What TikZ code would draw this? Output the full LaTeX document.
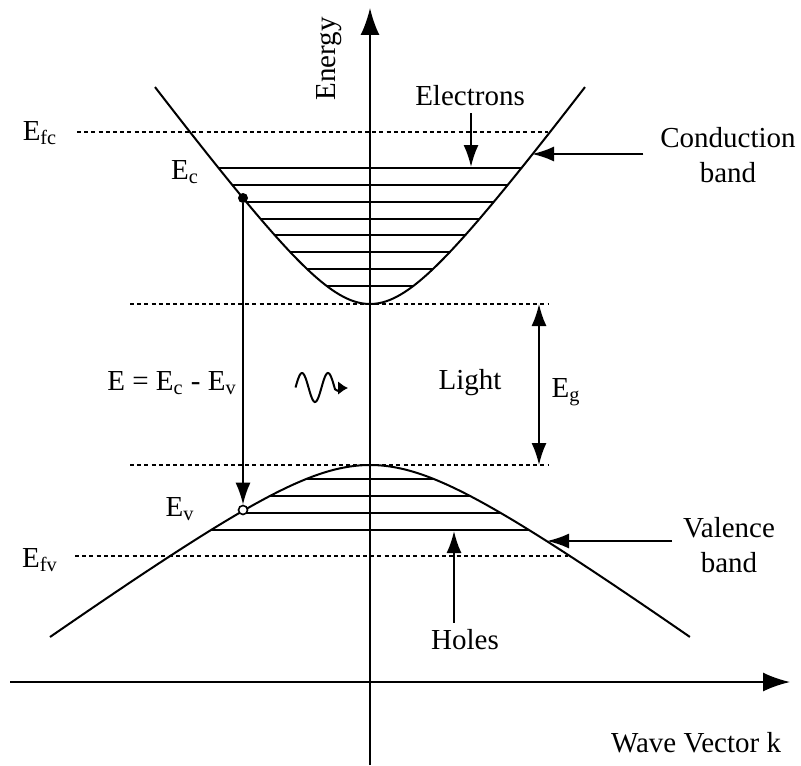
\documentclass[tikz,border=0pt]{standalone}
\usepackage{fontspec}
\setmainfont{Liberation Serif}
\usetikzlibrary{arrows.meta}

\begin{document}
\begin{tikzpicture}[
        x=0.5pt, y=-0.5pt,
        every node/.style={font=\fontsize{14.5}{17.5}\selectfont},
        band/.style={line width=1pt},
        level/.style={line width=1pt},
        dotline/.style={line width=0.8pt, dash pattern=on 2pt off 1.6pt},
        axis/.style={line width=1pt, -{Latex[length=13.5pt,width=9.5pt]}},
        arr/.style={line width=1pt, -{Latex[length=11pt,width=7.5pt]}},
        electron/.style={circle, fill, inner sep=0pt, minimum size=5pt},
        hole/.style={circle, draw, fill=white, line width=0.8pt, inner sep=0pt, minimum size=4.5pt}
    ]
    \useasboundingbox (0,0) rectangle (801,765);

    % Axes
    \coordinate (kl) at (10,682);
    \coordinate (kr) at (790,682);
    \coordinate (eb) at (370,765);
    \coordinate (et) at (370,8);
    \draw[axis] (kl) -- (kr);
    \draw[axis] (eb) -- (et);
    \node[rotate=90] (energy) at (329,59) {Energy};
    \node (wavek) at (696,743) {Wave Vector k};

    % Fermi levels and band edges
    \node (efc) at (40,133) {E\textsubscript{fc}};
    \node (efv) at (40,560) {E\textsubscript{fv}};
    \draw[dotline] (77,132) -- (548,132);
    \draw[dotline] (75,556) -- (568,556);
    \coordinate (gtop) at (539,304);
    \coordinate (gbot) at (539,465);
    \draw[dotline] (130,304) -- (548,304);
    \draw[dotline] (130,465) -- (548,465);

    % Conduction band
    \draw[band] plot[domain=-2.15:2.15, samples=120, smooth]
        ({370+100*\x}, {304-100*(sqrt(0.7344+1.8225*\x*\x)-0.857)});
    \foreach \k in {0,...,7}{
        \pgfmathsetmacro\yy{168+16.85*\k}
        \pgfmathsetmacro\hw{100*sqrt((3.04-\yy/100+0.857)^2-0.7344)/1.35}
        \draw[level] ({370-\hw},\yy) -- ({370+\hw},\yy);
    }

    % Valence band
    \draw[band] plot[domain=-3.2:3.2, samples=120, smooth]
        ({370+100*\x}, {465+100*(sqrt(0.4665+0.5184*\x*\x)-0.683)});
    \foreach \k in {0,...,3}{
        \pgfmathsetmacro\yy{479+17*\k}
        \pgfmathsetmacro\hw{100*sqrt((\yy/100-4.65+0.683)^2-0.4665)/0.72}
        \draw[level] ({370-\hw},\yy) -- ({370+\hw},\yy);
    }

    % Transition
    \node[electron] (ec) at (243,198) {};
    \node[hole] (ev) at (243,510) {};
    \node (ecl) at (185,172) {E\textsubscript{c}};
    \node (evl) at (180,509) {E\textsubscript{v}};
    \draw[arr] (ec) -- (ev);
    \node (etrans) at (172,383) {E = E\textsubscript{c} - E\textsubscript{v}};

    % Light
    \draw[line width=1pt, -{Latex[length=5pt,width=7pt]}]
        plot[domain=295.5:335, samples=40, smooth] (\x, {387.5-14.5*sin(360*(\x-295.5)/26)})
        to[out=-50, in=180] (348,388);
    \node (light) at (470,383) {Light};

    % Band gap
    \draw[line width=1pt, {Latex[length=11pt,width=7.5pt]}-{Latex[length=11pt,width=7.5pt]}] (gtop) -- (gbot);
    \node (eg) at (566,392) {E\textsubscript{g}};

    % Labels with arrows
    \node (elec) at (470,96) {Electrons};
    \coordinate (elt) at (471,167);
    \draw[arr] (elec.south -| elt) -- (elt);

    \node[align=center] (cb) at (728,155) {Conduction\\band};
    \coordinate (cbt) at (532,154);
    \draw[arr] ([xshift=-5pt]cb.west |- cbt) -- (cbt);

    \node[align=center] (vb) at (729,545) {Valence\\band};
    \coordinate (vbt) at (547,541);
    \draw[arr] ([xshift=-2pt]vb.west |- vbt) -- (vbt);

    \node (holes) at (465,640) {Holes};
    \coordinate (hot) at (454,531);
    \draw[arr] (holes.north -| hot) -- (hot);

\end{tikzpicture}
\end{document}
